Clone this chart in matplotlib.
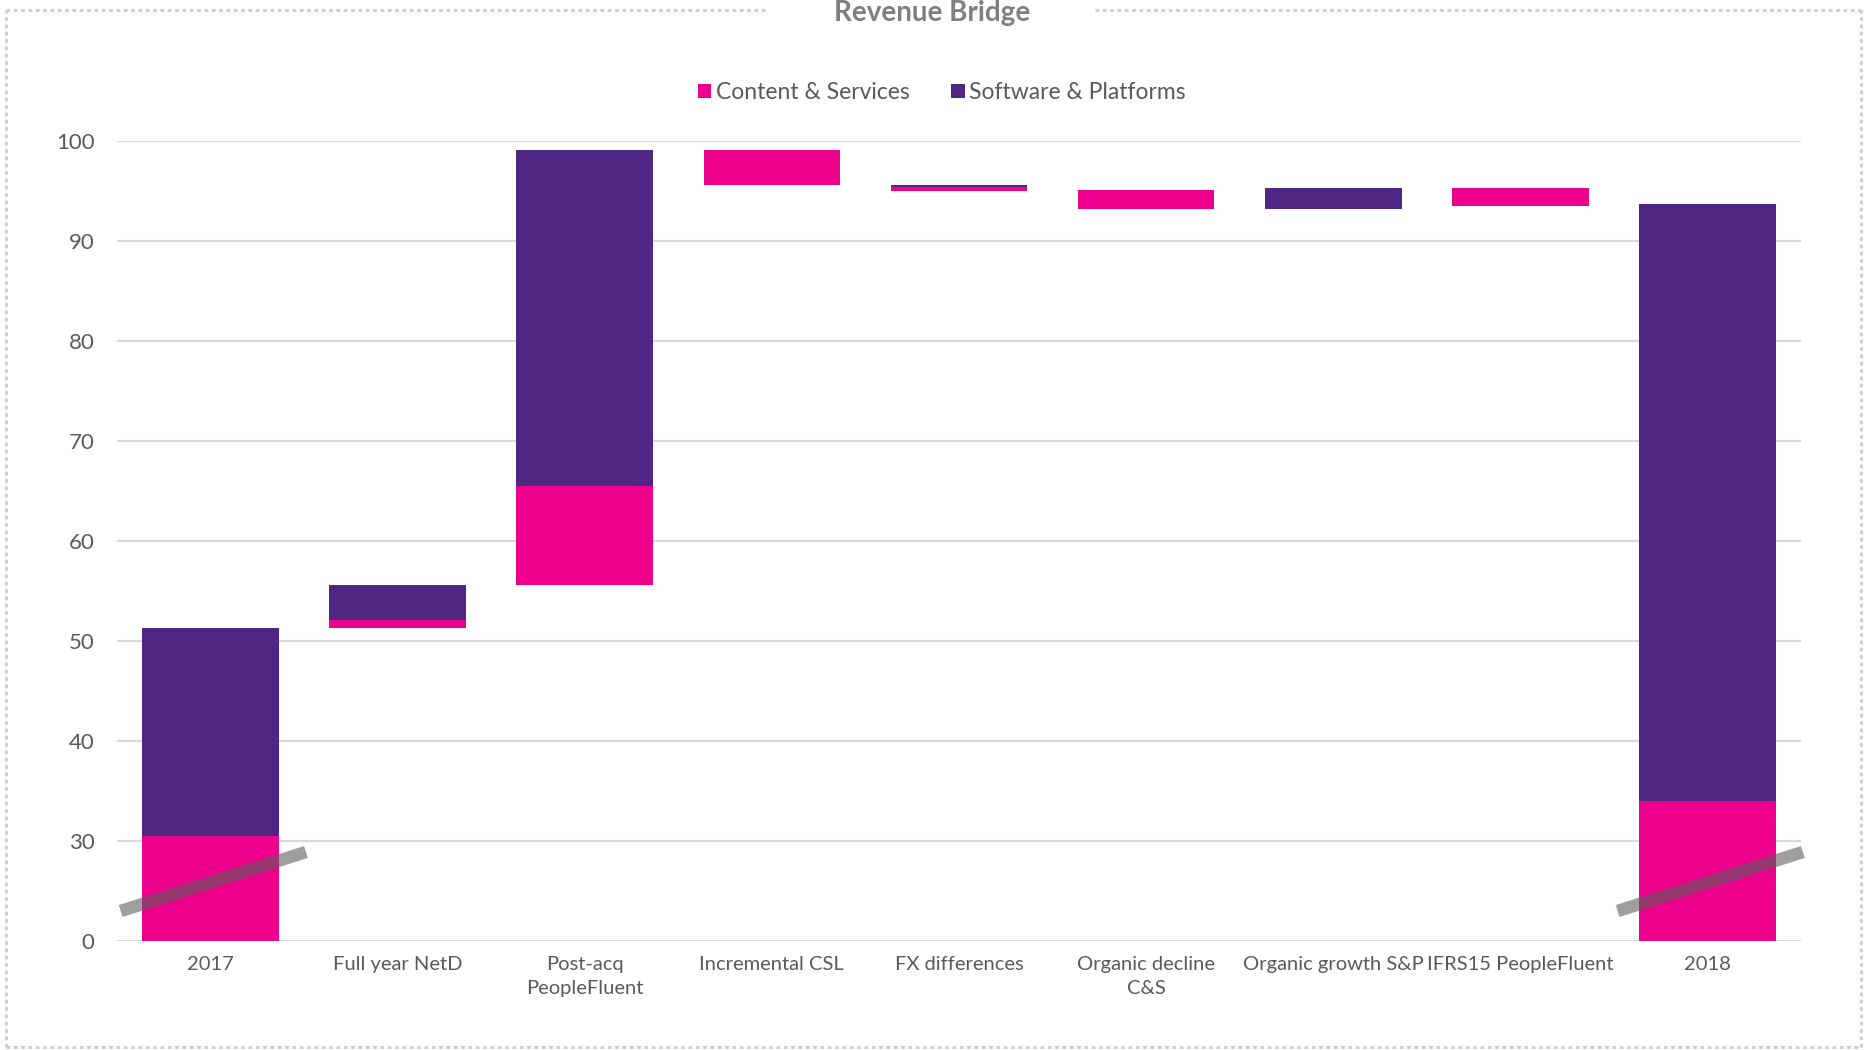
import numpy as np
import matplotlib.pyplot as plt
from matplotlib.lines import Line2D

plt.rcParams['font.family'] = ['Lato', 'DejaVu Sans']

# waterfall data (value axis is broken: lowest gridline is labelled 0)
categories = ["2017", "Full year NetD", "Post-acq\nPeopleFluent", "Incremental CSL",
              "FX differences", "Organic decline\nC&S", "Organic growth S&P",
              "IFRS15 PeopleFluent", "2018"]
cs_low = [0, 51.3, 55.6, 95.6, 95.0, 93.2, np.nan, 93.45, 0]
cs_high = [30.5, 52.1, 65.5, 99.1, 95.4, 95.1, np.nan, 95.3, 34.0]
sp_low = [30.5, 52.1, 65.5, np.nan, 95.4, np.nan, 93.2, np.nan, 34.0]
sp_high = [51.3, 55.6, 99.1, np.nan, 95.6, np.nan, 95.3, np.nan, 93.7]
ytick_vals = [20, 30, 40, 50, 60, 70, 80, 90, 100]
ytick_labels = ["0", "30", "40", "50", "60", "70", "80", "90", "100"]

pink = "#EC008C"
purple = "#4F2683"
txt = "#595959"

fig = plt.figure(figsize=(18.65, 10.5), dpi=100)
ax = fig.add_axes([0.0627, 0.1038, 0.903, 0.762])

x = np.arange(len(categories))
cs_low = np.array(cs_low); cs_high = np.array(cs_high)
sp_low = np.array(sp_low); sp_high = np.array(sp_high)
w = 0.73
ax.bar(x, cs_high - cs_low, bottom=cs_low, width=w, color=pink, label="Content & Services", zorder=3)
ax.bar(x, sp_high - sp_low, bottom=sp_low, width=w, color=purple, label="Software & Platforms", zorder=3)

# axis break marks on the first and last bars
for i in [0, 8]:
    ax.plot([i - 0.48, i + 0.51], [23.0, 28.9], color="#5d5d5d", alpha=0.6, lw=9,
            solid_capstyle="butt", zorder=4, clip_on=False)

ax.set_xlim(-0.5, len(categories) - 0.5)
ax.set_ylim(20, 100)
ax.set_yticks(ytick_vals)
ax.set_yticklabels(ytick_labels)
ax.set_xticks(x)
ax.set_xticklabels(categories, linespacing=1.45)
ax.tick_params(axis="both", length=0, labelcolor=txt)
ax.tick_params(axis="y", pad=16, labelsize=16)
ax.tick_params(axis="x", pad=11, labelsize=14.5)
ax.grid(axis="y", color="#d9d9d9", lw=1.5, zorder=0)
for s in ax.spines.values():
    s.set_visible(False)

fig.legend(loc="center", bbox_to_anchor=(0.505, 0.912), ncol=2, frameon=False,
           fontsize=16.5, labelcolor=txt, handlelength=0.6, handleheight=0.6,
           handletextpad=0.2, columnspacing=1.8)

fig.text(0.5, 0.988, "Revenue Bridge", ha="center", va="center", fontsize=20,
         fontweight="bold", color="#7f7f7f")

# dotted frame with a gap for the title
bc = "#cfcfcf"
for xs, ys in [([0.003, 0.411], [0.9905, 0.9905]), ([0.587, 0.998], [0.9905, 0.9905]),
               ([0.003, 0.003], [0.003, 0.9905]), ([0.998, 0.998], [0.003, 0.9905]),
               ([0.003, 0.998], [0.003, 0.003])]:
    fig.add_artist(Line2D(xs, ys, transform=fig.transFigure, color=bc, lw=2.2,
                          linestyle=(0, (1.2, 1.2))))

fig.savefig("out.png", dpi=100)
